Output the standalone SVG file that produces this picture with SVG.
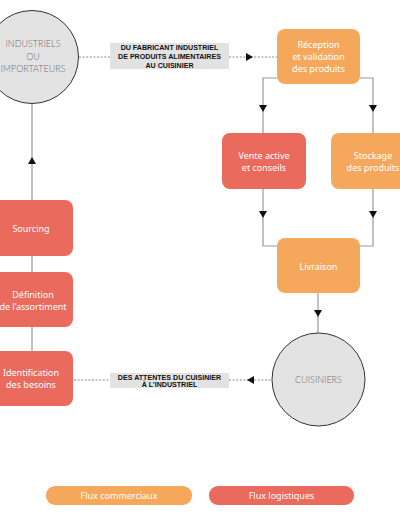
<svg xmlns="http://www.w3.org/2000/svg" width="400" height="516" viewBox="0 0 400 516">
<style>
.org{fill:#F5A85B}
.red{fill:#EA6A5D}
.bt{font-family:"Noto Sans","Open Sans",sans-serif;font-size:9px;fill:#fff;text-anchor:middle}
.ct{font-family:"Lato","Liberation Sans",sans-serif;font-weight:300;font-size:9px;fill:#6f6f6f;text-anchor:middle}
.lt{font-family:"Liberation Sans",Arial,sans-serif;font-weight:bold;font-size:7.1px;fill:#111;text-anchor:middle}
.circ{fill:#e3e3e3;stroke:#333;stroke-width:1}
.lab{fill:#e2e2e2}
.ln{fill:none;stroke:#9a9a9a;stroke-width:1.2}
.dot{fill:none;stroke:#888;stroke-width:1;stroke-dasharray:2 1.6}
.ah{fill:#111}
</style>
<g id="connectors">
  <path class="ln" d="M32 103 V200 M32 256 V272 M32 327 V351"/>
  <polygon class="ah" points="28,164 36,164 32,157"/>
  <path class="dot" d="M79 57 H110 M229 57 H277"/>
  <polygon class="ah" points="246,53 246,61 253,57"/>
  <path class="ln" d="M277 78 H263 V133 M360 78 H373 V133"/>
  <polygon class="ah" points="259,105 267,105 263,112"/>
  <polygon class="ah" points="369,105 377,105 373,112"/>
  <path class="ln" d="M263 189 V246 H277 M373 189 V246 H360"/>
  <polygon class="ah" points="259,211 267,211 263,218"/>
  <polygon class="ah" points="369,211 377,211 373,218"/>
  <path class="ln" d="M318 293 V333"/>
  <polygon class="ah" points="314,310 322,310 318,317"/>
  <path class="dot" d="M74 380 H110 M229 380 H272"/>
  <polygon class="ah" points="254,376 254,384 247,380"/>
</g>
<g id="industriels">
  <circle class="circ" cx="32" cy="57" r="46.5"/>
  <text class="ct" x="33" y="47">INDUSTRIELS</text>
  <text class="ct" x="33" y="59.5">OU</text>
  <text class="ct" x="33" y="72">IMPORTATEURS</text>
</g>
<g id="label1">
  <rect class="lab" x="110" y="43" width="119" height="26"/>
  <text class="lt" x="169.5" y="50">DU FABRICANT INDUSTRIEL</text>
  <text class="lt" x="169.5" y="59">DE PRODUITS ALIMENTAIRES</text>
  <text class="lt" x="169.5" y="68">AU CUISINIER</text>
</g>
<g id="reception">
  <rect class="org" x="277" y="29" width="83" height="55" rx="8"/>
  <text class="bt" x="318.5" y="48">Réception</text>
  <text class="bt" x="318.5" y="60">et validation</text>
  <text class="bt" x="318.5" y="72">des produits</text>
</g>
<g id="vente">
  <rect class="red" x="222" y="133" width="84" height="56" rx="8"/>
  <text class="bt" x="264" y="159">Vente active</text>
  <text class="bt" x="264" y="171">et conseils</text>
</g>
<g id="stockage">
  <rect class="org" x="331" y="133" width="84" height="56" rx="8"/>
  <text class="bt" x="373" y="159">Stockage</text>
  <text class="bt" x="373" y="171">des produits</text>
</g>
<g id="livraison">
  <rect class="org" x="277" y="238" width="83" height="55" rx="8"/>
  <text class="bt" x="318.5" y="270">Livraison</text>
</g>
<g id="cuisiniers">
  <circle class="circ" cx="318.5" cy="379.5" r="46.5"/>
  <text class="ct" x="318.5" y="383">CUISINIERS</text>
</g>
<g id="label2">
  <rect class="lab" x="110" y="373" width="119" height="15"/>
  <text class="lt" x="169.5" y="379.5">DES ATTENTES DU CUISINIER</text>
  <text class="lt" x="169.5" y="387">À L’INDUSTRIEL</text>
</g>
<g id="sourcing">
  <rect class="red" x="-11" y="200" width="84" height="56" rx="8"/>
  <text class="bt" x="31" y="232">Sourcing</text>
</g>
<g id="definition">
  <rect class="red" x="-11" y="272" width="84" height="55" rx="8"/>
  <text class="bt" x="33" y="298">Définition</text>
  <text class="bt" x="33" y="310" font-size="8.4">de l’assortiment</text>
</g>
<g id="identification">
  <rect class="red" x="-11" y="351" width="84" height="55" rx="8"/>
  <text class="bt" x="31" y="376">Identification</text>
  <text class="bt" x="31" y="388">des besoins</text>
</g>
<g id="legend-commerciaux">
  <rect class="org" x="46" y="486" width="146" height="19" rx="9"/>
  <text class="bt" x="119" y="498.5">Flux commerciaux</text>
</g>
<g id="legend-logistiques">
  <rect class="red" x="209" y="486" width="145" height="19" rx="9"/>
  <text class="bt" x="281.5" y="498.5">Flux logistiques</text>
</g>
</svg>
